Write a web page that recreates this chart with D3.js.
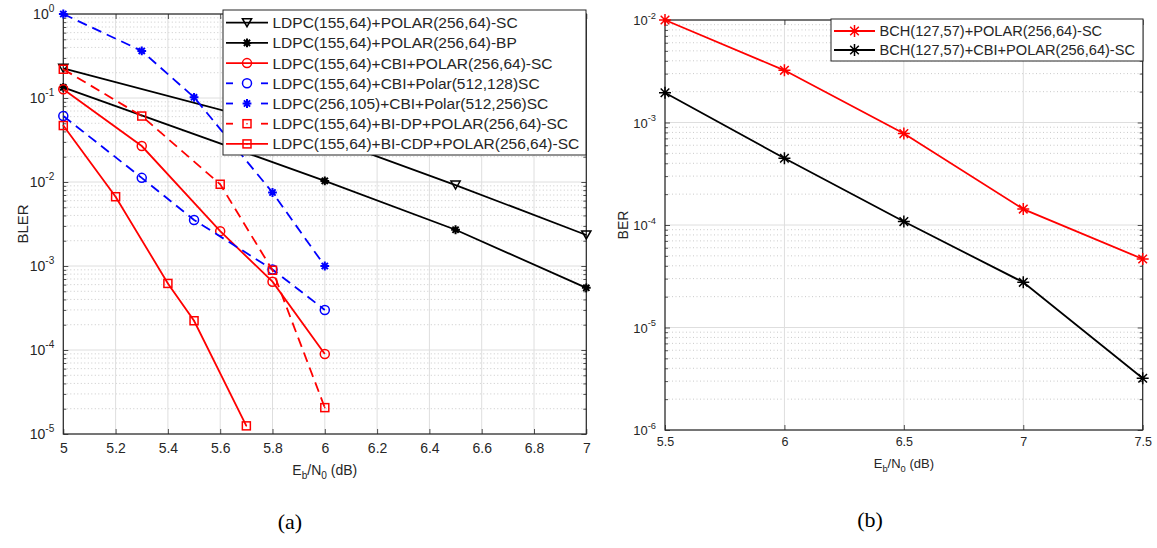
<!DOCTYPE html>
<html>
<head>
<meta charset="utf-8">
<script src="https://cdn.jsdelivr.net/npm/d3@7"></script>
<style>
  body { margin: 0; background: #fff; }
  text { font-family: "Liberation Sans", Arial, Helvetica, sans-serif; fill: #262626; }
</style>
</head>
<body>
<svg id="chart" width="1157" height="548"></svg>
<script>
// ---- panel (a): BLER vs Eb/N0 ----
const aTicksX = [5, 5.2, 5.4, 5.6, 5.8, 6, 6.2, 6.4, 6.6, 6.8, 7];
const aTickLabelsX = ["5", "5.2", "5.4", "5.6", "5.8", "6", "6.2", "6.4", "6.6", "6.8", "7"];
const aDecades = [0, -1, -2, -3, -4, -5];

const aNames = [
  "LDPC(155,64)+POLAR(256,64)-SC",
  "LDPC(155,64)+POLAR(256,64)-BP",
  "LDPC(155,64)+CBI+POLAR(256,64)-SC",
  "LDPC(155,64)+CBI+Polar(512,128)SC",
  "LDPC(256,105)+CBI+Polar(512,256)SC",
  "LDPC(155,64)+BI-DP+POLAR(256,64)-SC",
  "LDPC(155,64)+BI-CDP+POLAR(256,64)-SC"
];
const scX = [5, 6, 6.5, 7];
const scY = [0.226, 0.034, 0.0092, 0.00234];
const bpX = [5, 6, 6.5, 7];
const bpY = [0.134, 0.0103, 0.0027, 0.00055];
const cbiX = [5, 5.3, 5.6, 5.8, 6];
const cbiY = [0.127, 0.0268, 0.0026, 0.00065, 0.0000895];
const cbi512X = [5, 5.3, 5.5, 5.8, 6];
const cbi512Y = [0.061, 0.0112, 0.00353, 0.00091, 0.0003];
const ldpc256X = [5, 5.3, 5.5, 5.8, 6];
const ldpc256Y = [1.0, 0.363, 0.102, 0.0075, 0.001];
const bidpX = [5, 5.3, 5.6, 5.8, 6];
const bidpY = [0.22, 0.061, 0.0094, 0.00089, 0.0000206];
const bicdpX = [5, 5.2, 5.4, 5.5, 5.7];
const bicdpY = [0.047, 0.00668, 0.00062, 0.000223, 0.0000125];

// ---- panel (b): BER vs Eb/N0 ----
const bTicksX = [5.5, 6, 6.5, 7, 7.5];
const bTickLabelsX = ["5.5", "6", "6.5", "7", "7.5"];
const bDecades = [-2, -3, -4, -5, -6];
const bNames = ["BCH(127,57)+POLAR(256,64)-SC", "BCH(127,57)+CBI+POLAR(256,64)-SC"];
const bchX = [5.5, 6, 6.5, 7, 7.5];
const bchY = [0.01, 0.00323, 0.00078, 0.000143, 0.0000466];
const bchCbiX = [5.5, 6, 6.5, 7, 7.5];
const bchCbiY = [0.00195, 0.000448, 0.000108, 0.0000276, 0.0000032];

const RED = "#ff0000", BLUE = "#0000ff", BLACK = "#000000", AXIS = "#262626";
const DASH = "10,6";

const svg = d3.select("#chart");

// marker shapes, drawn centred on (0,0)
function drawMarker(g, type, color) {
  if (type === "tri") {
    g.append("path").attr("d", "M-4.6,-4L4.6,-4L0,4Z")
      .attr("fill", "none").attr("stroke", color).attr("stroke-width", 1.5);
  } else if (type === "circle") {
    g.append("circle").attr("r", 4.5)
      .attr("fill", "none").attr("stroke", color).attr("stroke-width", 1.5);
  } else if (type === "square") {
    g.append("rect").attr("x", -4).attr("y", -4).attr("width", 8).attr("height", 8)
      .attr("fill", "none").attr("stroke", color).attr("stroke-width", 1.5);
    g.append("circle").attr("r", 0.8).attr("fill", color);
  } else if (type === "blob") {
    // small heavy asterisk
    const s = 4.4, a = 3.1;
    g.append("path").attr("d", `M${-s},0L${s},0M0,${-s}L0,${s}M${-a},${-a}L${a},${a}M${-a},${a}L${a},${-a}`)
      .attr("stroke", color).attr("stroke-width", 2).attr("fill", "none");
    g.append("circle").attr("r", 2.2).attr("fill", color);
  } else if (type === "star") {
    const s = 6, a = 4.3;
    g.append("path").attr("d", `M${-s},0L${s},0M0,${-s}L0,${s}M${-a},${-a}L${a},${a}M${-a},${a}L${a},${-a}`)
      .attr("stroke", color).attr("stroke-width", 1.5).attr("fill", "none");
  }
}

function expLabel(sel, e, size, supSize) {
  sel.append("tspan").style("font-size", size + "px").text("10");
  sel.append("tspan").style("font-size", supSize + "px").attr("dy", -size * 0.5).text(String(e));
}

function drawPanel(p) {
  const x = d3.scaleLinear().domain(p.xDomain).range([p.left, p.right]);
  const y = d3.scaleLog().domain([Math.pow(10, d3.min(p.decades)), Math.pow(10, d3.max(p.decades))])
    .range([p.bottom, p.top]);
  const g = svg.append("g");

  // minor log grid
  const minor = [];
  const eLo = d3.min(p.decades), eHi = d3.max(p.decades);
  for (let e = eLo; e < eHi; e++) for (let m = 2; m <= 9; m++) minor.push(m * Math.pow(10, e));
  g.append("g").selectAll("line").data(minor).join("line")
    .attr("x1", p.left).attr("x2", p.right)
    .attr("y1", d => y(d)).attr("y2", d => y(d))
    .attr("stroke", "#bdbdbd").attr("stroke-width", 0.8).attr("stroke-dasharray", "1,2.5");
  // major grid
  g.append("g").selectAll("line").data(p.decades.map(e => Math.pow(10, e))).join("line")
    .attr("x1", p.left).attr("x2", p.right)
    .attr("y1", d => y(d)).attr("y2", d => y(d))
    .attr("stroke", "#dedede").attr("stroke-width", 1);
  g.append("g").selectAll("line").data(p.xTicks).join("line")
    .attr("x1", d => x(d)).attr("x2", d => x(d))
    .attr("y1", p.top).attr("y2", p.bottom)
    .attr("stroke", "#dedede").attr("stroke-width", 1);

  // axes with inward ticks
  const xAxis = d3.axisBottom(x).tickValues(p.xTicks).tickSizeInner(-5).tickSizeOuter(0)
    .tickPadding(p.xPad).tickFormat((d, i) => p.xLabels[i]);
  const gx = g.append("g").attr("transform", `translate(0,${p.bottom})`).call(xAxis);
  gx.selectAll("text").style("font-size", p.xTickSize + "px").style("fill", AXIS)
    .style("font-family", '"Liberation Sans", Arial, sans-serif');
  g.append("g").attr("transform", `translate(0,${p.top})`)
    .call(d3.axisTop(x).tickValues(p.xTicks).tickSizeInner(-5).tickSizeOuter(0).tickFormat(""));

  const majors = p.decades.map(e => Math.pow(10, e));
  const gyl = g.append("g").attr("transform", `translate(${p.left},0)`)
    .call(d3.axisLeft(y).tickValues(majors).tickSizeInner(-5).tickSizeOuter(0).tickFormat(""));
  gyl.selectAll(".tick").each(function (d) {
    const t = d3.select(this).append("text").attr("x", -9).attr("dy", 4.5)
      .attr("text-anchor", "end").style("fill", AXIS)
      .style("font-family", '"Liberation Sans", Arial, sans-serif');
    expLabel(t, Math.round(Math.log10(d)), p.yTickSize, p.yTickSize * 0.72);
  });
  g.append("g").attr("transform", `translate(${p.left},0)`)
    .call(d3.axisLeft(y).tickValues(minor).tickSizeInner(-3).tickSizeOuter(0).tickFormat(""));
  g.append("g").attr("transform", `translate(${p.right},0)`)
    .call(d3.axisRight(y).tickValues(majors).tickSizeInner(-5).tickSizeOuter(0).tickFormat(""));
  g.append("g").attr("transform", `translate(${p.right},0)`)
    .call(d3.axisRight(y).tickValues(minor).tickSizeInner(-3).tickSizeOuter(0).tickFormat(""));
  g.selectAll(".domain").remove();
  g.selectAll(".tick line").attr("stroke", AXIS).attr("stroke-width", 0.8);

  // box
  g.append("rect").attr("x", p.left).attr("y", p.top)
    .attr("width", p.right - p.left).attr("height", p.bottom - p.top)
    .attr("fill", "none").attr("stroke", AXIS).attr("stroke-width", 1.2);

  // series
  const line = d3.line().x(d => x(d[0])).y(d => y(d[1]));
  p.series.forEach(s => {
    const pts = s.x.map((v, i) => [v, s.y[i]]);
    g.append("path").datum(pts).attr("d", line)
      .attr("fill", "none").attr("stroke", s.color).attr("stroke-width", 1.8)
      .attr("stroke-dasharray", s.dash ? DASH : null);
    pts.forEach(d => {
      const m = g.append("g").attr("transform", `translate(${x(d[0])},${y(d[1])})`);
      drawMarker(m, s.marker, s.color);
    });
  });

  // legend
  const L = p.legend;
  const lg = svg.append("g");
  lg.append("rect").attr("x", L.x).attr("y", L.y).attr("width", L.w).attr("height", L.h)
    .attr("fill", "#fff").attr("stroke", AXIS).attr("stroke-width", 1);
  p.series.forEach((s, i) => {
    const cy = L.y + L.first + i * L.step;
    const x0 = L.x + 3, x1 = L.x + L.sample, mx = (x0 + x1) / 2;
    if (s.dash) {
      [[x0, x0 + 7], [x1 - 7, x1]].forEach(seg => lg.append("line")
        .attr("x1", seg[0]).attr("x2", seg[1]).attr("y1", cy).attr("y2", cy)
        .attr("stroke", s.color).attr("stroke-width", 1.8));
    } else {
      lg.append("line").attr("x1", x0).attr("x2", x1).attr("y1", cy).attr("y2", cy)
        .attr("stroke", s.color).attr("stroke-width", 1.8);
    }
    drawMarker(lg.append("g").attr("transform", `translate(${mx},${cy})`), s.marker, s.color);
    lg.append("text").attr("x", x1 + 4.5).attr("y", cy).attr("dy", "0.36em")
      .style("font-size", L.font + "px").text(s.name);
  });

  // axis titles
  const xt = svg.append("text").attr("x", (p.left + p.right) / 2).attr("y", p.xTitleY)
    .attr("text-anchor", "middle").style("font-size", p.titleSize + "px");
  xt.append("tspan").text("E");
  xt.append("tspan").style("font-size", p.titleSize * 0.72 + "px").attr("dy", 4).text("b");
  xt.append("tspan").attr("dy", -4).text("/N");
  xt.append("tspan").style("font-size", p.titleSize * 0.72 + "px").attr("dy", 4).text("0");
  xt.append("tspan").attr("dy", -4).text(" (dB)");

  svg.append("text").attr("transform", `translate(${p.yTitleX},${(p.top + p.bottom) / 2}) rotate(-90)`)
    .attr("text-anchor", "middle").style("font-size", p.yTitleSize + "px").text(p.yTitle);

  svg.append("text").attr("x", p.capX).attr("y", p.capY).attr("text-anchor", "middle")
    .style("font-family", '"Liberation Serif", "DejaVu Serif", serif').style("fill", "#000")
    .style("font-size", "22px").text(p.caption);
}

drawPanel({
  left: 63.3, right: 586.3, top: 14, bottom: 434,
  xDomain: [5, 7], xTicks: aTicksX, xLabels: aTickLabelsX, decades: aDecades,
  xPad: 9, xTickSize: 14, yTickSize: 14,
  series: [
    { name: aNames[0], x: scX, y: scY, color: BLACK, marker: "tri" },
    { name: aNames[1], x: bpX, y: bpY, color: BLACK, marker: "blob" },
    { name: aNames[2], x: cbiX, y: cbiY, color: RED, marker: "circle" },
    { name: aNames[3], x: cbi512X, y: cbi512Y, color: BLUE, marker: "circle", dash: true },
    { name: aNames[4], x: ldpc256X, y: ldpc256Y, color: BLUE, marker: "blob", dash: true },
    { name: aNames[5], x: bidpX, y: bidpY, color: RED, marker: "square", dash: true },
    { name: aNames[6], x: bicdpX, y: bicdpY, color: RED, marker: "square" }
  ],
  legend: { x: 223, y: 10, w: 363, h: 145, first: 12.7, step: 20.2, sample: 45, font: 15.5 },
  xTitleY: 475, titleSize: 14, yTitle: "BLER", yTitleX: 28, yTitleSize: 15,
  caption: "(a)", capX: 290, capY: 529
});

drawPanel({
  left: 665, right: 1142.7, top: 20, bottom: 430,
  xDomain: [5.5, 7.5], xTicks: bTicksX, xLabels: bTickLabelsX, decades: bDecades,
  xPad: 7, xTickSize: 12.5, yTickSize: 13,
  series: [
    { name: bNames[0], x: bchX, y: bchY, color: RED, marker: "star" },
    { name: bNames[1], x: bchCbiX, y: bchCbiY, color: BLACK, marker: "star" }
  ],
  legend: { x: 831, y: 19, w: 312, h: 42, first: 12, step: 19, sample: 44, font: 14.6 },
  xTitleY: 468, titleSize: 13, yTitle: "BER", yTitleX: 628, yTitleSize: 14,
  caption: "(b)", capX: 870, capY: 527
});
</script>
</body>
</html>
